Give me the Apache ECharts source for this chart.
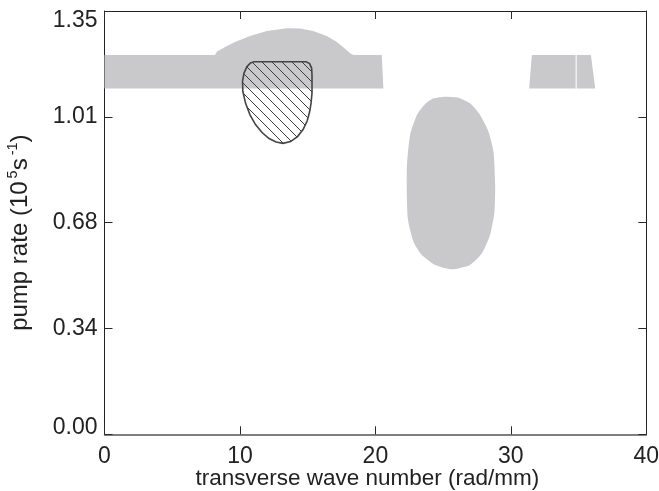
<!DOCTYPE html>
<html>
<head>
<meta charset="utf-8">
<script src="https://cdn.jsdelivr.net/npm/echarts@6/dist/echarts.min.js"></script>
<style>
  html, body { margin: 0; padding: 0; background: #fff; }
  #main { width: 659px; height: 491px; }
</style>
</head>
<body>
<div id="main"></div>
<script>
// axis ticks
var xTicks = [0, 10, 20, 30, 40]
var yTicks = [0, 0.3375, 0.675, 1.0125, 1.35]
var yTickLabels = ['0.00', '0.34', '0.68', '1.01', '1.35']

// regions, points as [wave number, pump rate]
// gray band with the bump on top
var bandPts = [
  [0, 1.103], [0, 1.2095], [8.16, 1.2095], [8.31, 1.2207], [8.90, 1.2350],
  [9.64, 1.2510], [10.75, 1.2701], [11.98, 1.2860], [13.46, 1.2946], [14.44, 1.2940],
  [15.40, 1.2860], [16.41, 1.2701], [17.10, 1.2526], [17.61, 1.2350], [18.13, 1.2149],
  [18.38, 1.2095], [20.47, 1.2095], [20.59, 1.103]
]
// gray oval lobe
var lobePts = [
  [25.15, 1.0765], [26.13, 1.0733], [26.99, 1.0555], [27.73, 1.0182], [28.35, 0.9649],
  [28.72, 0.9011], [28.84, 0.7950], [28.79, 0.7098], [28.47, 0.6365], [27.86, 0.5772],
  [26.99, 0.5399], [25.64, 0.5261], [24.41, 0.5399], [23.43, 0.5717], [22.81, 0.6142],
  [22.39, 0.6888], [22.32, 0.8482], [22.56, 0.9544], [23.06, 1.0182], [23.67, 1.0533],
  [24.26, 1.0708]
]
// small gray block on the right (two pieces)
var blockAPts = [[31.55, 1.2095], [34.78, 1.2095], [34.78, 1.103], [31.35, 1.103]]
var blockBPts = [[34.86, 1.2095], [35.91, 1.2095], [36.23, 1.103], [34.86, 1.103]]
// hatched region
var hatchPts = [
  [11.04, 1.1881], [14.88, 1.1881], [15.14, 1.1824], [15.29, 1.1680], [15.32, 1.1457],
  [15.32, 1.0883], [15.25, 1.0564], [15.14, 1.0277], [14.96, 0.9990], [14.66, 0.9719],
  [14.25, 0.9496], [13.74, 0.9337], [13.18, 0.9279], [12.67, 0.9321], [12.15, 0.9432],
  [11.63, 0.9624], [11.15, 0.9879], [10.75, 1.0182], [10.41, 1.0564], [10.21, 1.0947],
  [10.19, 1.1266], [10.30, 1.1521], [10.52, 1.1728], [10.78, 1.1840]
]

var FONT = 'Liberation Sans, Arial, Helvetica, sans-serif'
var GRAY = '#c9c9cb'
var INK = '#222'

// diagonal line tile for the hatch
function hatchTile() {
  var c = document.createElement('canvas')
  c.width = 10
  c.height = 10
  var g = c.getContext('2d')
  g.strokeStyle = '#3c3c3c'
  g.lineWidth = 1
  g.beginPath()
  g.moveTo(-1, -1); g.lineTo(11, 11)
  g.moveTo(9, -1); g.lineTo(11, 1)
  g.moveTo(-1, 9); g.lineTo(1, 11)
  g.stroke()
  return c
}

function region(name, pts, style, smooth) {
  return {
    name: name,
    type: 'custom',
    silent: true,
    data: pts,
    renderItem: function (params, api) {
      if (params.dataIndex !== 0) return null
      return {
        type: 'polygon',
        shape: { points: pts.map(function (p) { return api.coord(p) }), smooth: smooth || 0 },
        style: style
      }
    }
  }
}

function axisLine(color, width) {
  return { show: true, onZero: false, lineStyle: { color: color, width: width } }
}
function axisTick() {
  return { show: true, inside: true, length: 8, lineStyle: { color: '#2a2a2a', width: 1 } }
}

var chart = echarts.init(document.getElementById('main'))

var option = {
  animation: false,
  backgroundColor: '#fff',
  grid: { left: 104.5, right: 12.7, top: 11, bottom: 56.7, containLabel: false, outerBoundsMode: 'none' },
  xAxis: [
    {
      type: 'value', min: xTicks[0], max: xTicks[xTicks.length - 1], interval: 10,
      axisLine: axisLine('#555', 1.5), axisTick: axisTick(), splitLine: { show: false },
      axisLabel: { fontSize: 23, color: INK, fontFamily: FONT, margin: 11 },
      name: 'transverse wave number (rad/mm)',
      nameLocation: 'middle', nameGap: 32.5, nameMoveOverlap: false,
      nameTextStyle: { fontSize: 22.5, color: INK, fontFamily: FONT, padding: [0, 16, 0, 0] }
    },
    {
      type: 'value', position: 'top', min: xTicks[0], max: xTicks[xTicks.length - 1], interval: 10,
      axisLine: axisLine('#222', 1), axisTick: axisTick(), splitLine: { show: false },
      axisLabel: { show: false }
    }
  ],
  yAxis: [
    {
      type: 'value', min: yTicks[0], max: yTicks[yTicks.length - 1], interval: 0.3375,
      axisLine: axisLine('#222', 1), axisTick: axisTick(), splitLine: { show: false },
      axisLabel: {
        fontSize: 23, color: INK, fontFamily: FONT, margin: 7,
        formatter: function (v, i) {
          var s = yTickLabels[i]
          if (i === 0) return '{bot|' + s + '}'
          if (i === yTickLabels.length - 1) return '{top|' + s + '}'
          return s
        },
        rich: {
          top: { fontSize: 23, color: INK, fontFamily: FONT, padding: [20, 0, 0, 0] },
          bot: { fontSize: 23, color: INK, fontFamily: FONT, padding: [0, 0, 14, 0] }
        }
      },
      name: 'pump rate (10{sup|5}s{sup|-1})',
      nameLocation: 'middle', nameGap: 70, nameMoveOverlap: false,
      nameTextStyle: {
        fontSize: 24, color: INK, fontFamily: FONT, lineHeight: 29, padding: [0, 20, 0, 0],
        rich: {
          sup: { fontSize: 14.5, color: INK, fontFamily: FONT, lineHeight: 15, verticalAlign: 'top', padding: [0, 0, 0, 3] }
        }
      }
    },
    {
      type: 'value', position: 'right', min: yTicks[0], max: yTicks[yTicks.length - 1], interval: 0.3375,
      axisLine: axisLine('#222', 1), axisTick: axisTick(), splitLine: { show: false },
      axisLabel: { show: false }
    }
  ],
  series: [
    region('band', bandPts, { fill: GRAY }),
    region('blockA', blockAPts, { fill: GRAY }),
    region('blockB', blockBPts, { fill: GRAY }),
    region('lobe', lobePts, { fill: GRAY }, 0.2),
    region('hatch', hatchPts, { fill: { image: hatchTile(), repeat: 'repeat' }, stroke: '#444', lineWidth: 1.6 })
  ]
}

chart.setOption(option)
</script>
</body>
</html>
